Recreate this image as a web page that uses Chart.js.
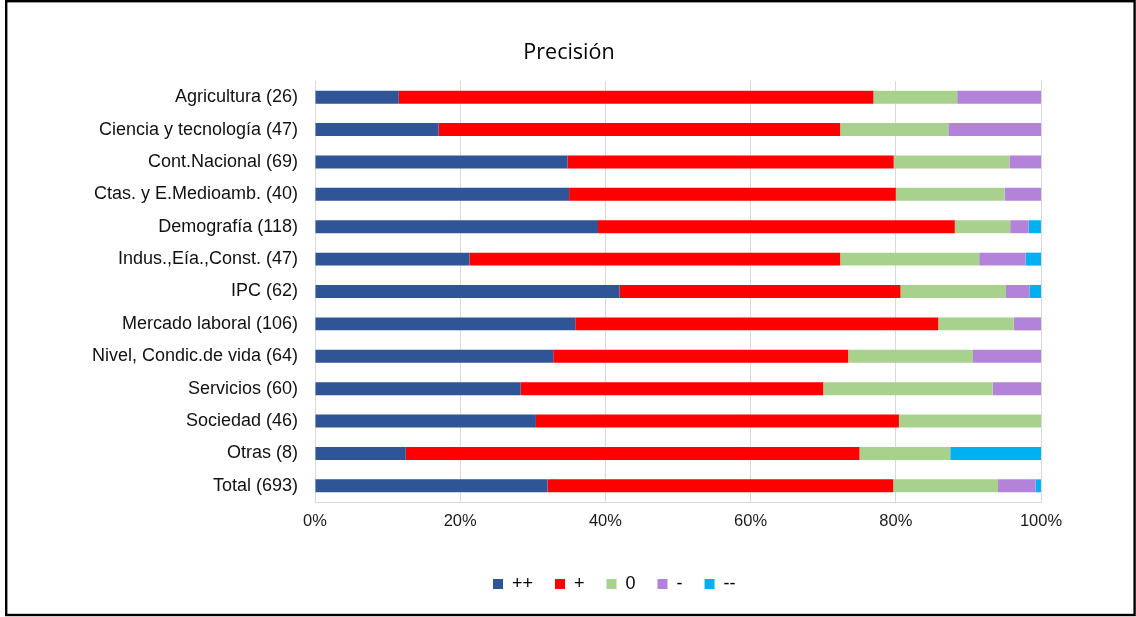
<!DOCTYPE html>
<html>
<head>
<meta charset="utf-8">
<title>Precisión</title>
<script src="https://cdn.jsdelivr.net/npm/chart.js@4.4.1/dist/chart.umd.min.js"></script>
<style>
  html, body { margin: 0; padding: 0; background: #ffffff; }
  #wrap { position: absolute; left: 0; top: 0; width: 1136px; height: 617px; }
</style>
</head>
<body>
<div id="wrap"><canvas id="c" width="1136" height="617"></canvas></div>
<script>
// ---- Data (percent of each category's total) ----
const categories = [
  'Agricultura (26)',
  'Ciencia y tecnología (47)',
  'Cont.Nacional (69)',
  'Ctas. y E.Medioamb. (40)',
  'Demografía (118)',
  'Indus.,Eía.,Const. (47)',
  'IPC (62)',
  'Mercado laboral (106)',
  'Nivel, Condic.de vida (64)',
  'Servicios (60)',
  'Sociedad (46)',
  'Otras (8)',
  'Total (693)'
];
const seriesNames = ['++', '+', '0', '-', '--'];
const muyBien  = [11.54, 17.02, 34.78, 35.00, 38.98, 21.28, 41.94, 35.85, 32.81, 28.33, 30.43, 12.50, 32.03];
const bien     = [65.38, 55.32, 44.93, 45.00, 49.15, 51.06, 38.71, 50.00, 40.63, 41.67, 50.00, 62.50, 47.62];
const neutro   = [11.54, 14.89, 15.94, 15.00,  7.63, 19.15, 14.52, 10.38, 17.19, 23.33, 19.57, 12.50, 14.43];
const mal      = [11.54, 12.77,  4.35,  5.00,  2.54,  6.38,  3.23,  3.77,  9.38,  6.67,  0.00,  0.00,  5.19];
const muyMal   = [ 0.00,  0.00,  0.00,  0.00,  1.69,  2.13,  1.61,  0.00,  0.00,  0.00,  0.00, 12.50,  0.72];
const xTicks   = [0, 20, 40, 60, 80, 100];

// ---- Styles ----
const colors = ['#2F5597', '#FF0000', '#A9D18E', '#B383D9', '#00B0F0'];
const seriesValues = [muyBien, bien, neutro, mal, muyMal];

const layoutPlugin = {
  id: 'layoutTweaks',
  afterLayout(chart) {
    const t = chart.titleBlock;
    if (t) {
      const dx = 569 - (t.left + t.right) / 2;
      t.left += dx; t.right += dx;
    }
    const lg = chart.legend;
    if (lg && lg.lineWidths) {
      const pad = lg.options.labels.padding;
      const cur = (lg.left + pad + lg.right - lg.lineWidths[0]) / 2;
      const dx = 493 - cur;
      lg.left += dx; lg.right += dx;
    }
  },
  afterDraw(chart) {
    const ctx = chart.ctx;
    ctx.save();
    ctx.strokeStyle = '#000000';
    ctx.lineWidth = 2.4;
    ctx.strokeRect(6.2, 1.2, 1128.4, 613.8);
    ctx.restore();
  }
};

new Chart(document.getElementById('c'), {
  type: 'bar',
  data: {
    labels: categories,
    datasets: seriesNames.map((name, i) => ({
      label: name,
      data: seriesValues[i],
      backgroundColor: colors[i],
      borderWidth: 0,
      barPercentage: 0.8,
      categoryPercentage: 0.5
    }))
  },
  options: {
    indexAxis: 'y',
    responsive: false,
    animation: false,
    devicePixelRatio: 1,
    layout: { padding: { left: 20, right: 95, top: 0, bottom: 14 } },
    font: { family: "'Liberation Sans', Arial, sans-serif" },
    scales: {
      x: {
        stacked: true,
        min: 0,
        max: 100,
        afterBuildTicks(scale) { scale.ticks = xTicks.map(v => ({ value: v })); },
        afterFit(scale) { scale.height = 51; },
        ticks: {
          padding: 10,
          color: '#1a1a1a',
          font: { size: 16.5, family: "'Liberation Sans', Arial, sans-serif" },
          callback: v => v + '%'
        },
        grid: { color: '#D9D9D9', lineWidth: 1, drawTicks: false },
        border: { display: true, color: '#D9D9D9', width: 1 }
      },
      y: {
        stacked: true,
        afterFit(scale) { scale.width = 295; },
        ticks: {
          padding: 17,
          color: '#111111',
          font: { size: 18, family: "'Liberation Sans', Arial, sans-serif" }
        },
        grid: { display: false, drawTicks: false },
        border: { display: false }
      }
    },
    plugins: {
      title: {
        display: true,
        text: 'Precisión',
        color: '#000000',
        font: { size: 21.5, weight: 'normal', family: "'Open Sans', sans-serif", lineHeight: 1.2 },
        padding: { top: 40, bottom: 15.2 }
      },
      legend: {
        display: true,
        position: 'bottom',
        labels: {
          boxWidth: 10,
          boxHeight: 10,
          padding: 22,
          color: '#000000',
          font: { size: 18, family: "'Liberation Sans', Arial, sans-serif" }
        }
      },
      tooltip: { enabled: false }
    }
  },
  plugins: [layoutPlugin]
});
</script>
</body>
</html>
